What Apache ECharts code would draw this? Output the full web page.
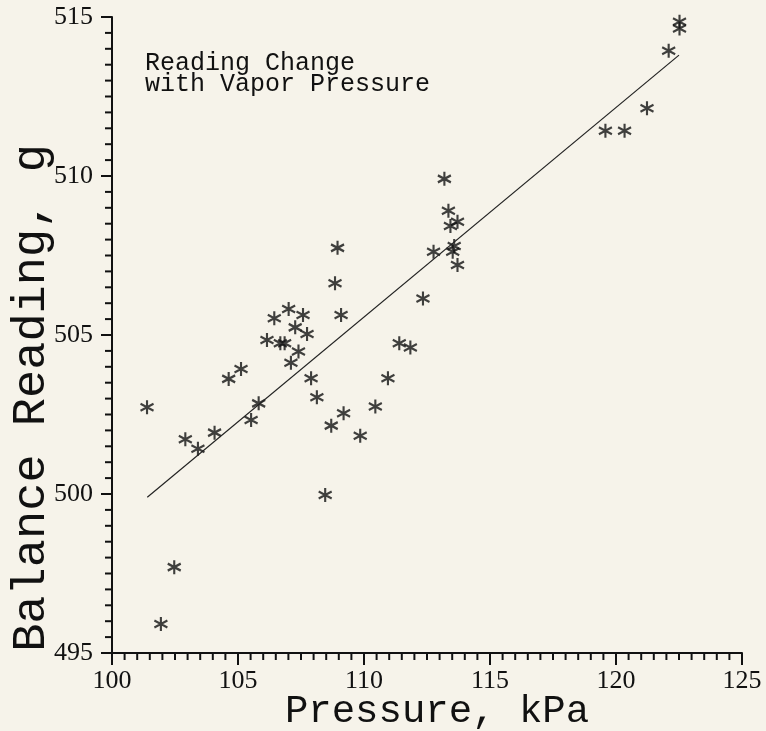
<!DOCTYPE html>
<html>
<head>
<meta charset="utf-8">
<script src="https://cdn.jsdelivr.net/npm/echarts@6/dist/echarts.min.js"></script>
<style>
    html, body { margin: 0; padding: 0; background: #f6f3ea; }
    #chart { width: 766px; height: 731px; }
</style>
</head>
<body>
<div id="chart"></div>
<script>
    // readings
    var pressure = [101.39, 101.94, 102.47, 102.91, 103.41, 104.07, 104.63, 105.12, 105.52, 105.82,
        106.15, 106.44, 106.68, 106.85, 107.01, 107.10, 107.27, 107.40, 107.58, 107.74,
        107.90, 108.13, 108.46, 108.70, 108.85, 108.95, 109.09, 109.19, 109.85, 110.45,
        110.95, 111.40, 111.84, 112.34, 112.76, 113.19, 113.35, 113.43, 113.52, 113.58,
        113.71, 113.71, 119.58, 120.34, 121.23, 122.09, 122.52, 122.52];
    var reading = [502.73, 495.91, 497.70, 501.72, 501.42, 501.93, 503.62, 503.93, 502.33, 502.85,
        504.84, 505.53, 504.74, 504.74, 505.82, 504.13, 505.24, 504.48, 505.63, 505.03,
        503.64, 503.04, 499.97, 502.15, 506.63, 507.74, 505.63, 502.54, 501.83, 502.75,
        503.64, 504.74, 504.61, 506.15, 507.62, 509.91, 508.91, 508.43, 507.62, 507.80,
        508.56, 507.20, 511.42, 511.42, 512.13, 513.94, 514.85, 514.64];
    // fitted line end points
    var fitPressure = [101.4, 122.5];
    var fitReading = [499.9, 513.8];

    // tick marks of the axes
    var xMajorTicks = [100, 105, 110, 115, 120, 125];
    var xMinorTicks = [100.5, 101, 101.5, 102, 102.5, 103, 103.5, 104, 104.5,
        105.5, 106, 106.5, 107, 107.5, 108, 108.5, 109, 109.5,
        110.5, 111, 111.5, 112, 112.5, 113, 113.5, 114, 114.5,
        115.5, 116, 116.5, 117, 117.5, 118, 118.5, 119, 119.5,
        120.5, 121, 121.5, 122, 122.5, 123, 123.5, 124, 124.5];
    var yMajorTicks = [495, 500, 505, 510, 515];
    var yMinorTicks = [495.5, 496, 496.5, 497, 497.5, 498, 498.5, 499, 499.5,
        500.5, 501, 501.5, 502, 502.5, 503, 503.5, 504, 504.5,
        505.5, 506, 506.5, 507, 507.5, 508, 508.5, 509, 509.5,
        510.5, 511, 511.5, 512, 512.5, 513, 513.5, 514, 514.5];

    var xMin = 100, xMax = 125, yMin = 495, yMax = 515;

    var points = [];
    for (var i = 0; i < pressure.length; i++) {
        points.push([pressure[i], reading[i]]);
    }
    var fit = [];
    for (var j = 0; j < fitPressure.length; j++) {
        fit.push([fitPressure[j], fitReading[j]]);
    }

    // [x, y, tick length]
    var xTicks = [], yTicks = [];
    xMajorTicks.forEach(function (v) { xTicks.push([v, yMin, 12]); });
    xMinorTicks.forEach(function (v) { xTicks.push([v, yMin, 7]); });
    yMajorTicks.forEach(function (v) { yTicks.push([xMin, v, 11]); });
    yMinorTicks.forEach(function (v) { yTicks.push([xMin, v, 7]); });

    var ink = '#111';
    var star = 'path://M0,-6L0,6M-5.2,-3L5.2,3M-5.2,3L5.2,-3';

    function tickSeries(data, down) {
        return {
            type: 'custom',
            silent: true,
            clip: false,
            z: 3,
            data: data,
            renderItem: function (params, api) {
                var p = api.coord([api.value(0), api.value(1)]);
                var len = api.value(2);
                var end = down ? [p[0], p[1] + len] : [p[0] - len, p[1]];
                return {
                    type: 'line',
                    shape: { x1: p[0], y1: p[1], x2: end[0], y2: end[1] },
                    style: { stroke: ink, lineWidth: 2 }
                };
            }
        };
    }

    function plotAxis(min, max, margin) {
        return {
            type: 'value',
            min: min,
            max: max,
            interval: 5,
            axisLine: { show: true, onZero: false, lineStyle: { color: ink, width: 2 } },
            axisTick: { show: false },
            splitLine: { show: false },
            axisLabel: {
                margin: margin,
                showMinLabel: true,
                showMaxLabel: true,
                color: ink,
                fontFamily: 'Liberation Serif',
                fontSize: 26
            }
        };
    }

    var myChart = echarts.init(document.getElementById('chart'));
    myChart.setOption({
        backgroundColor: '#f6f3ea',
        animation: false,
        grid: {
            left: 112,
            top: 17,
            right: 24,
            bottom: 78
        },
        xAxis: plotAxis(xMin, xMax, 15),
        yAxis: plotAxis(yMin, yMax, 19),
        graphic: [
            {
                type: 'text',
                left: 145,
                top: 51,
                style: {
                    text: 'Reading Change\nwith Vapor Pressure',
                    fill: ink,
                    font: '25px "Liberation Mono"',
                    lineHeight: 21
                }
            },
            {
                type: 'text',
                x: 8,
                y: 398,
                rotation: Math.PI / 2,
                style: {
                    text: 'Balance Reading, g',
                    fill: ink,
                    font: '47px "Liberation Mono"',
                    align: 'center',
                    verticalAlign: 'top'
                }
            },
            {
                type: 'text',
                x: 437,
                y: 712,
                style: {
                    text: 'Pressure, kPa',
                    fill: ink,
                    font: '39px "Liberation Mono"',
                    align: 'center',
                    verticalAlign: 'middle'
                }
            }
        ],
        series: [
            tickSeries(xTicks, true),
            tickSeries(yTicks, false),
            {
                name: 'fit',
                type: 'line',
                data: fit,
                symbol: 'none',
                lineStyle: { color: '#222', width: 1.2 }
            },
            {
                name: 'reading',
                type: 'scatter',
                data: points,
                symbol: star,
                symbolSize: [13, 14],
                itemStyle: { color: 'transparent', borderColor: ink, borderWidth: 2.2 }
            }
        ]
    });
</script>
</body>
</html>
